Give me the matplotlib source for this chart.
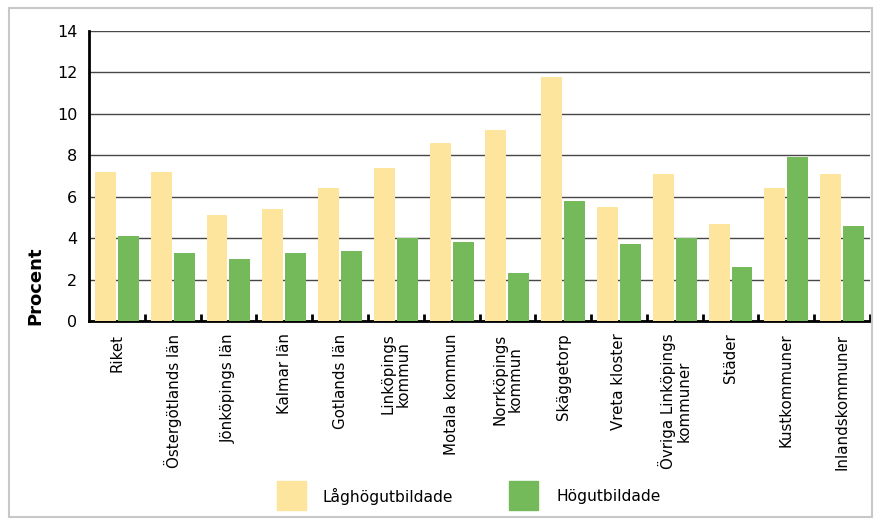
import matplotlib
matplotlib.use("Agg")
import matplotlib.pyplot as plt
import numpy as np
from matplotlib.patches import Rectangle

plt.rcParams['font.family'] = ['DejaVu Sans']

categories = ["Riket", "Östergötlands län", "Jönköpings län", "Kalmar län",
              "Gotlands län", "Linköpings\nkommun", "Motala kommun",
              "Norrköpings\nkommun", "Skäggetorp", "Vreta kloster",
              "Övriga Linköpings\nkommuner", "Städer", "Kustkommuner",
              "Inlandskommuner"]
lagutbildade = [7.2, 7.2, 5.1, 5.4, 6.4, 7.4, 8.6, 9.2, 11.8, 5.5, 7.1, 4.7, 6.4, 7.1]
hogutbildade = [4.1, 3.3, 3.0, 3.3, 3.4, 4.0, 3.8, 2.3, 5.8, 3.7, 4.0, 2.6, 7.9, 4.6]
series_names = ["Låghögutbildade", "Högutbildade"]
colors = ["#FDE59D", "#74B95A"]

W, H = 876, 519
fig = plt.figure(figsize=(W / 100, H / 100), dpi=100)
fig.patch.set_facecolor("white")

# outer frame
fig.add_artist(Rectangle((9 / W, 1 - 517 / H), (872 - 9) / W, (517 - 8) / H,
                         transform=fig.transFigure, fill=False,
                         edgecolor="#C8C8C8", linewidth=1.5))

ax = fig.add_axes([89 / W, 1 - 321 / H, (870 - 89) / W, (321 - 31) / H])
x = np.arange(len(categories))
bw = 0.375
gap = 0.036
ax.bar(x - gap / 2 - bw / 2, lagutbildade, bw, color=colors[0], zorder=3,
       label=series_names[0])
ax.bar(x + gap / 2 + bw / 2, hogutbildade, bw, color=colors[1], zorder=3,
       label=series_names[1])

ax.set_xlim(-0.5, len(categories) - 0.5)
ax.set_ylim(0, 14)
ax.set_yticks(np.arange(0, 15, 2))
ax.yaxis.grid(True, color="#474747", linewidth=1, zorder=0)
ax.set_axisbelow(True)

for s in ["top", "right"]:
    ax.spines[s].set_visible(False)
ax.spines["left"].set_linewidth(2)
ax.spines["bottom"].set_linewidth(2)

ax.tick_params(axis="y", length=0, labelsize=11.5, pad=8.5)
ax.set_xticks(x)
ax.set_xticklabels(categories, rotation=90, fontsize=10.8, va="top",
                   ha="center", linespacing=1.0)
ax.tick_params(axis="x", length=0, pad=9)
# boundary ticks between categories
ax.set_xticks(np.arange(0.5, len(categories), 1), minor=True)
ax.tick_params(axis="x", which="minor", direction="in", length=5, width=2,
               color="black")

fig.text(35 / W, 1 - 286 / H, "Procent", rotation=90, fontsize=13,
         fontweight="bold", ha="center", va="center")

# legend
for (sx, tx), name, c in zip([(277, 323), (509, 556)], series_names, colors):
    fig.add_artist(Rectangle((sx / W, 1 - 510 / H), 29 / W, 29 / H,
                             transform=fig.transFigure, color=c))
    fig.text(tx / W, 1 - 496 / H, name, fontsize=11.2, ha="left", va="center")

fig.savefig("out.png", dpi=100)
